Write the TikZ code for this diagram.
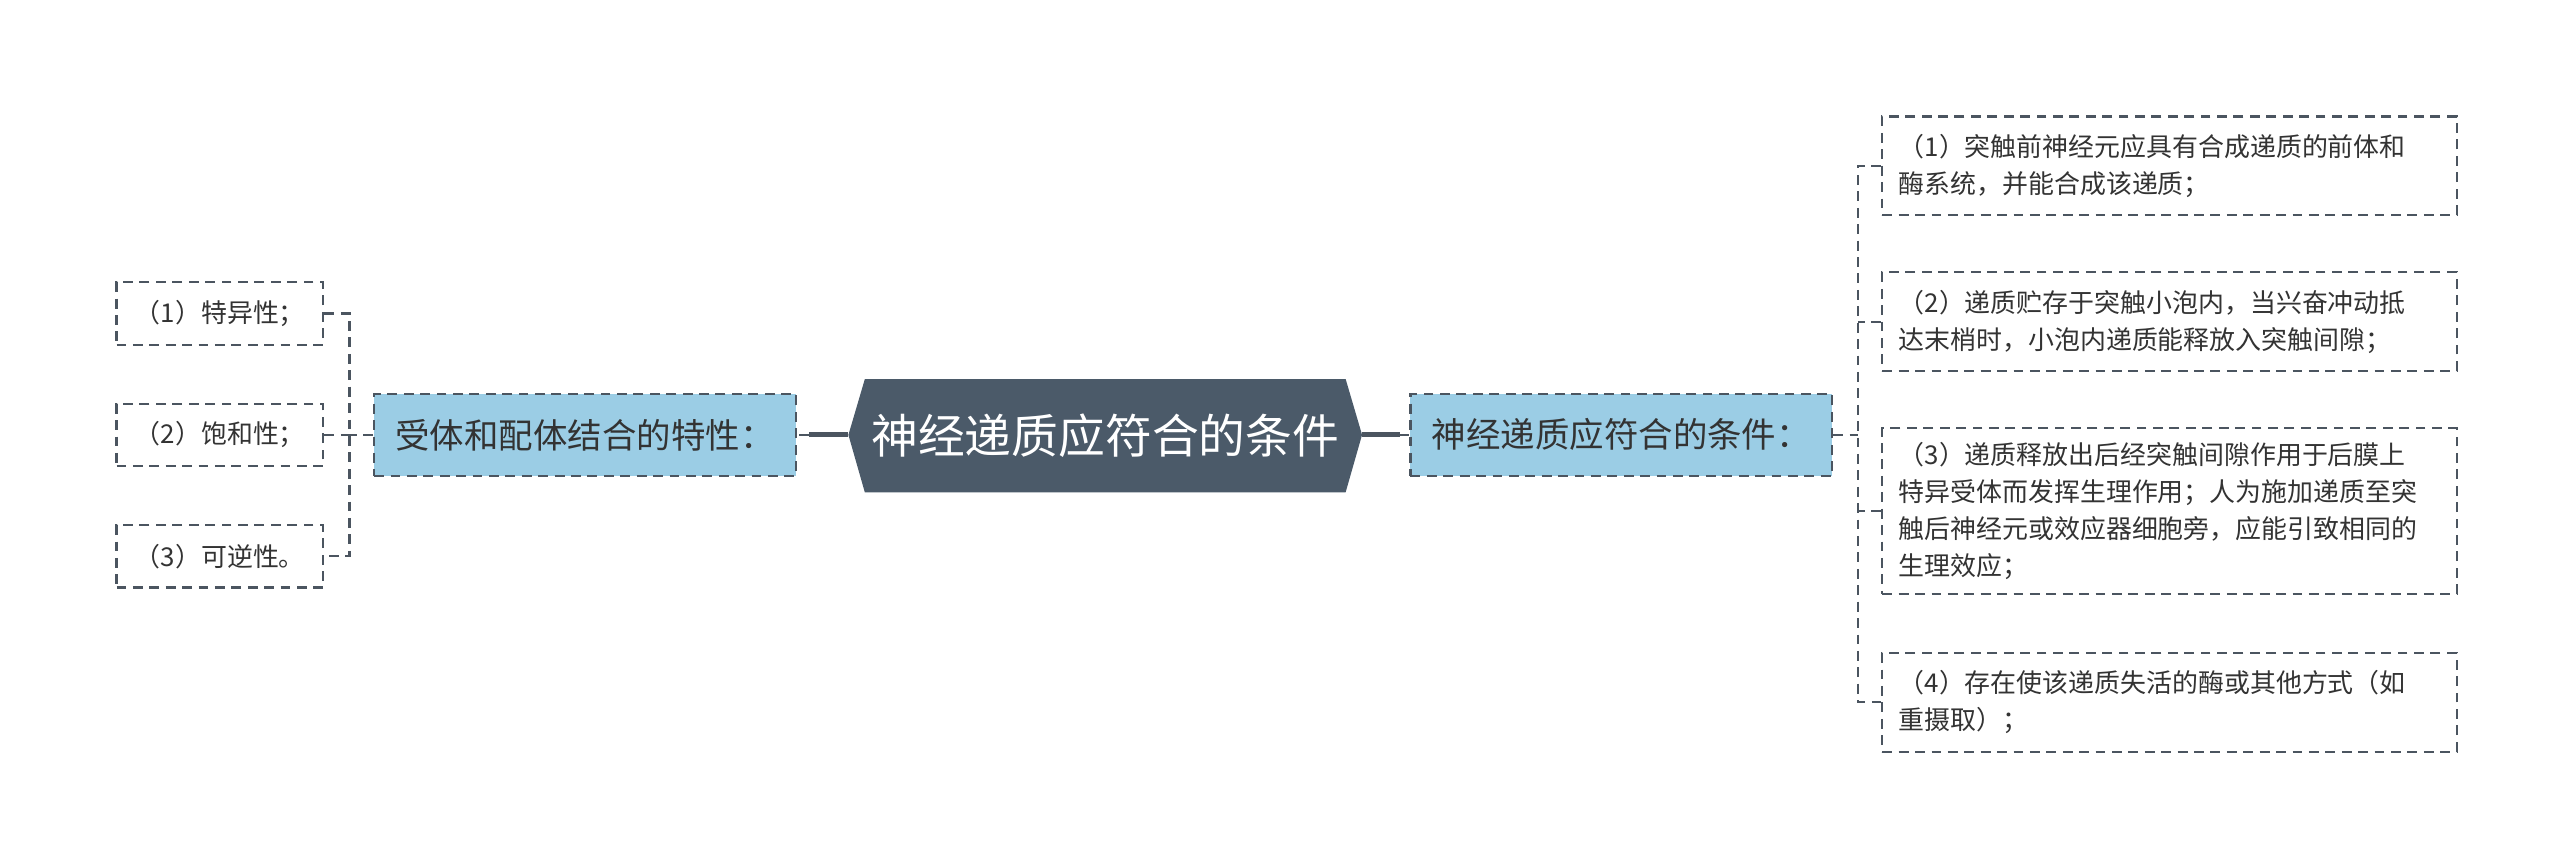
\documentclass[tikz,border=0pt]{standalone}
\usepackage{fontspec}
\setmainfont{Noto Sans CJK SC}
\usetikzlibrary{shapes.geometric}
\definecolor{hexfill}{HTML}{4B5A69}
\definecolor{bluefill}{HTML}{9BCDE5}
\definecolor{edgec}{HTML}{4B5560}
\definecolor{txt}{HTML}{333333}
\tikzset{
  dashline/.style={draw=edgec, line width=1.3pt, dash pattern=on 6pt off 4pt},
  bluebox/.style={rectangle, fill=bluefill, dashline, minimum width=257pt, minimum height=50pt, inner sep=0pt, font=\fontsize{21pt}{25pt}\selectfont, text=txt},
  leafl/.style={rectangle, fill=white, dashline, minimum width=126pt, minimum height=38pt, inner sep=0pt, font=\fontsize{15.8pt}{19pt}\selectfont, text=txt},
  leafr/.style={rectangle, fill=white, dashline, minimum width=350pt, inner sep=0pt, font=\fontsize{15.8pt}{22.5pt}\selectfont, text=txt, align=left, text width=330pt},
  solidc/.style={draw=edgec, line width=3pt},
  conn/.style={dashline, line width=1.3pt}
}
\begin{document}
\begin{tikzpicture}[x=1pt,y=-1pt]
\useasboundingbox (0,0) rectangle (1560,527);
% central hexagon
\path[fill=hexfill] (517,265) -- (527,231) -- (820,231) -- (830,265) -- (820,300) -- (527,300) -- cycle;
\node[text=white, font=\fontsize{28.5pt}{32pt}\selectfont] (root) at (673.5,265.5) {神经递质应符合的条件};
\coordinate (rootW) at (517,265);
\coordinate (rootE) at (830,265);
% blue boxes
\node[bluebox] (L) at (356.5,265) {受体和配体结合的特性：};
\node[bluebox] (R) at (988,265) {神经递质应符合的条件：};
% connectors root - blue boxes
\coordinate (lj) at (493,265);
\coordinate (rj) at (853,265);
\draw[solidc] (rootW) -- (lj);
\draw[conn] (lj) -- (L.east);
\draw[solidc] (rootE) -- (rj);
\draw[conn] (rj) -- (R.west);
% left leaves
\node[leafl] (l1) at (134,191) {（1）特异性；};
\node[leafl] (l2) at (134,265) {（2）饱和性；};
\node[leafl] (l3) at (134,339) {（3）可逆性。};
\coordinate (lb) at (213,265);
\draw[conn] (L.west) -- (lb);
\draw[conn] (l1.east) -- (lb |- l1.east) -- (lb |- l3.east) -- (l3.east);
\draw[conn] (l2.east) -- (lb);
% right leaves
\node[leafr, minimum height=60pt] (r1) at (1322,101) {（1）突触前神经元应具有合成递质的前体和\\酶系统，并能合成该递质；};
\node[leafr, minimum height=60pt] (r2) at (1322,196) {（2）递质贮存于突触小泡内，当兴奋冲动抵\\达末梢时，小泡内递质能释放入突触间隙；};
\node[leafr, minimum height=101pt] (r3) at (1322,311.5) {（3）递质释放出后经突触间隙作用于后膜上\\特异受体而发挥生理作用；人为施加递质至突\\触后神经元或效应器细胞旁，应能引致相同的\\生理效应；};
\node[leafr, minimum height=60pt] (r4) at (1322,428) {（4）存在使该递质失活的酶或其他方式（如\\重摄取）；};
\coordinate (rb) at (1132,265);
\draw[conn] (R.east) -- (rb);
\draw[conn] (r1.west) -- (rb |- r1.west) -- (rb |- r4.west) -- (r4.west);
\draw[conn] (r2.west) -- (rb |- r2.west);
\draw[conn] (r3.west) -- (rb |- r3.west);
\end{tikzpicture}
\end{document}
